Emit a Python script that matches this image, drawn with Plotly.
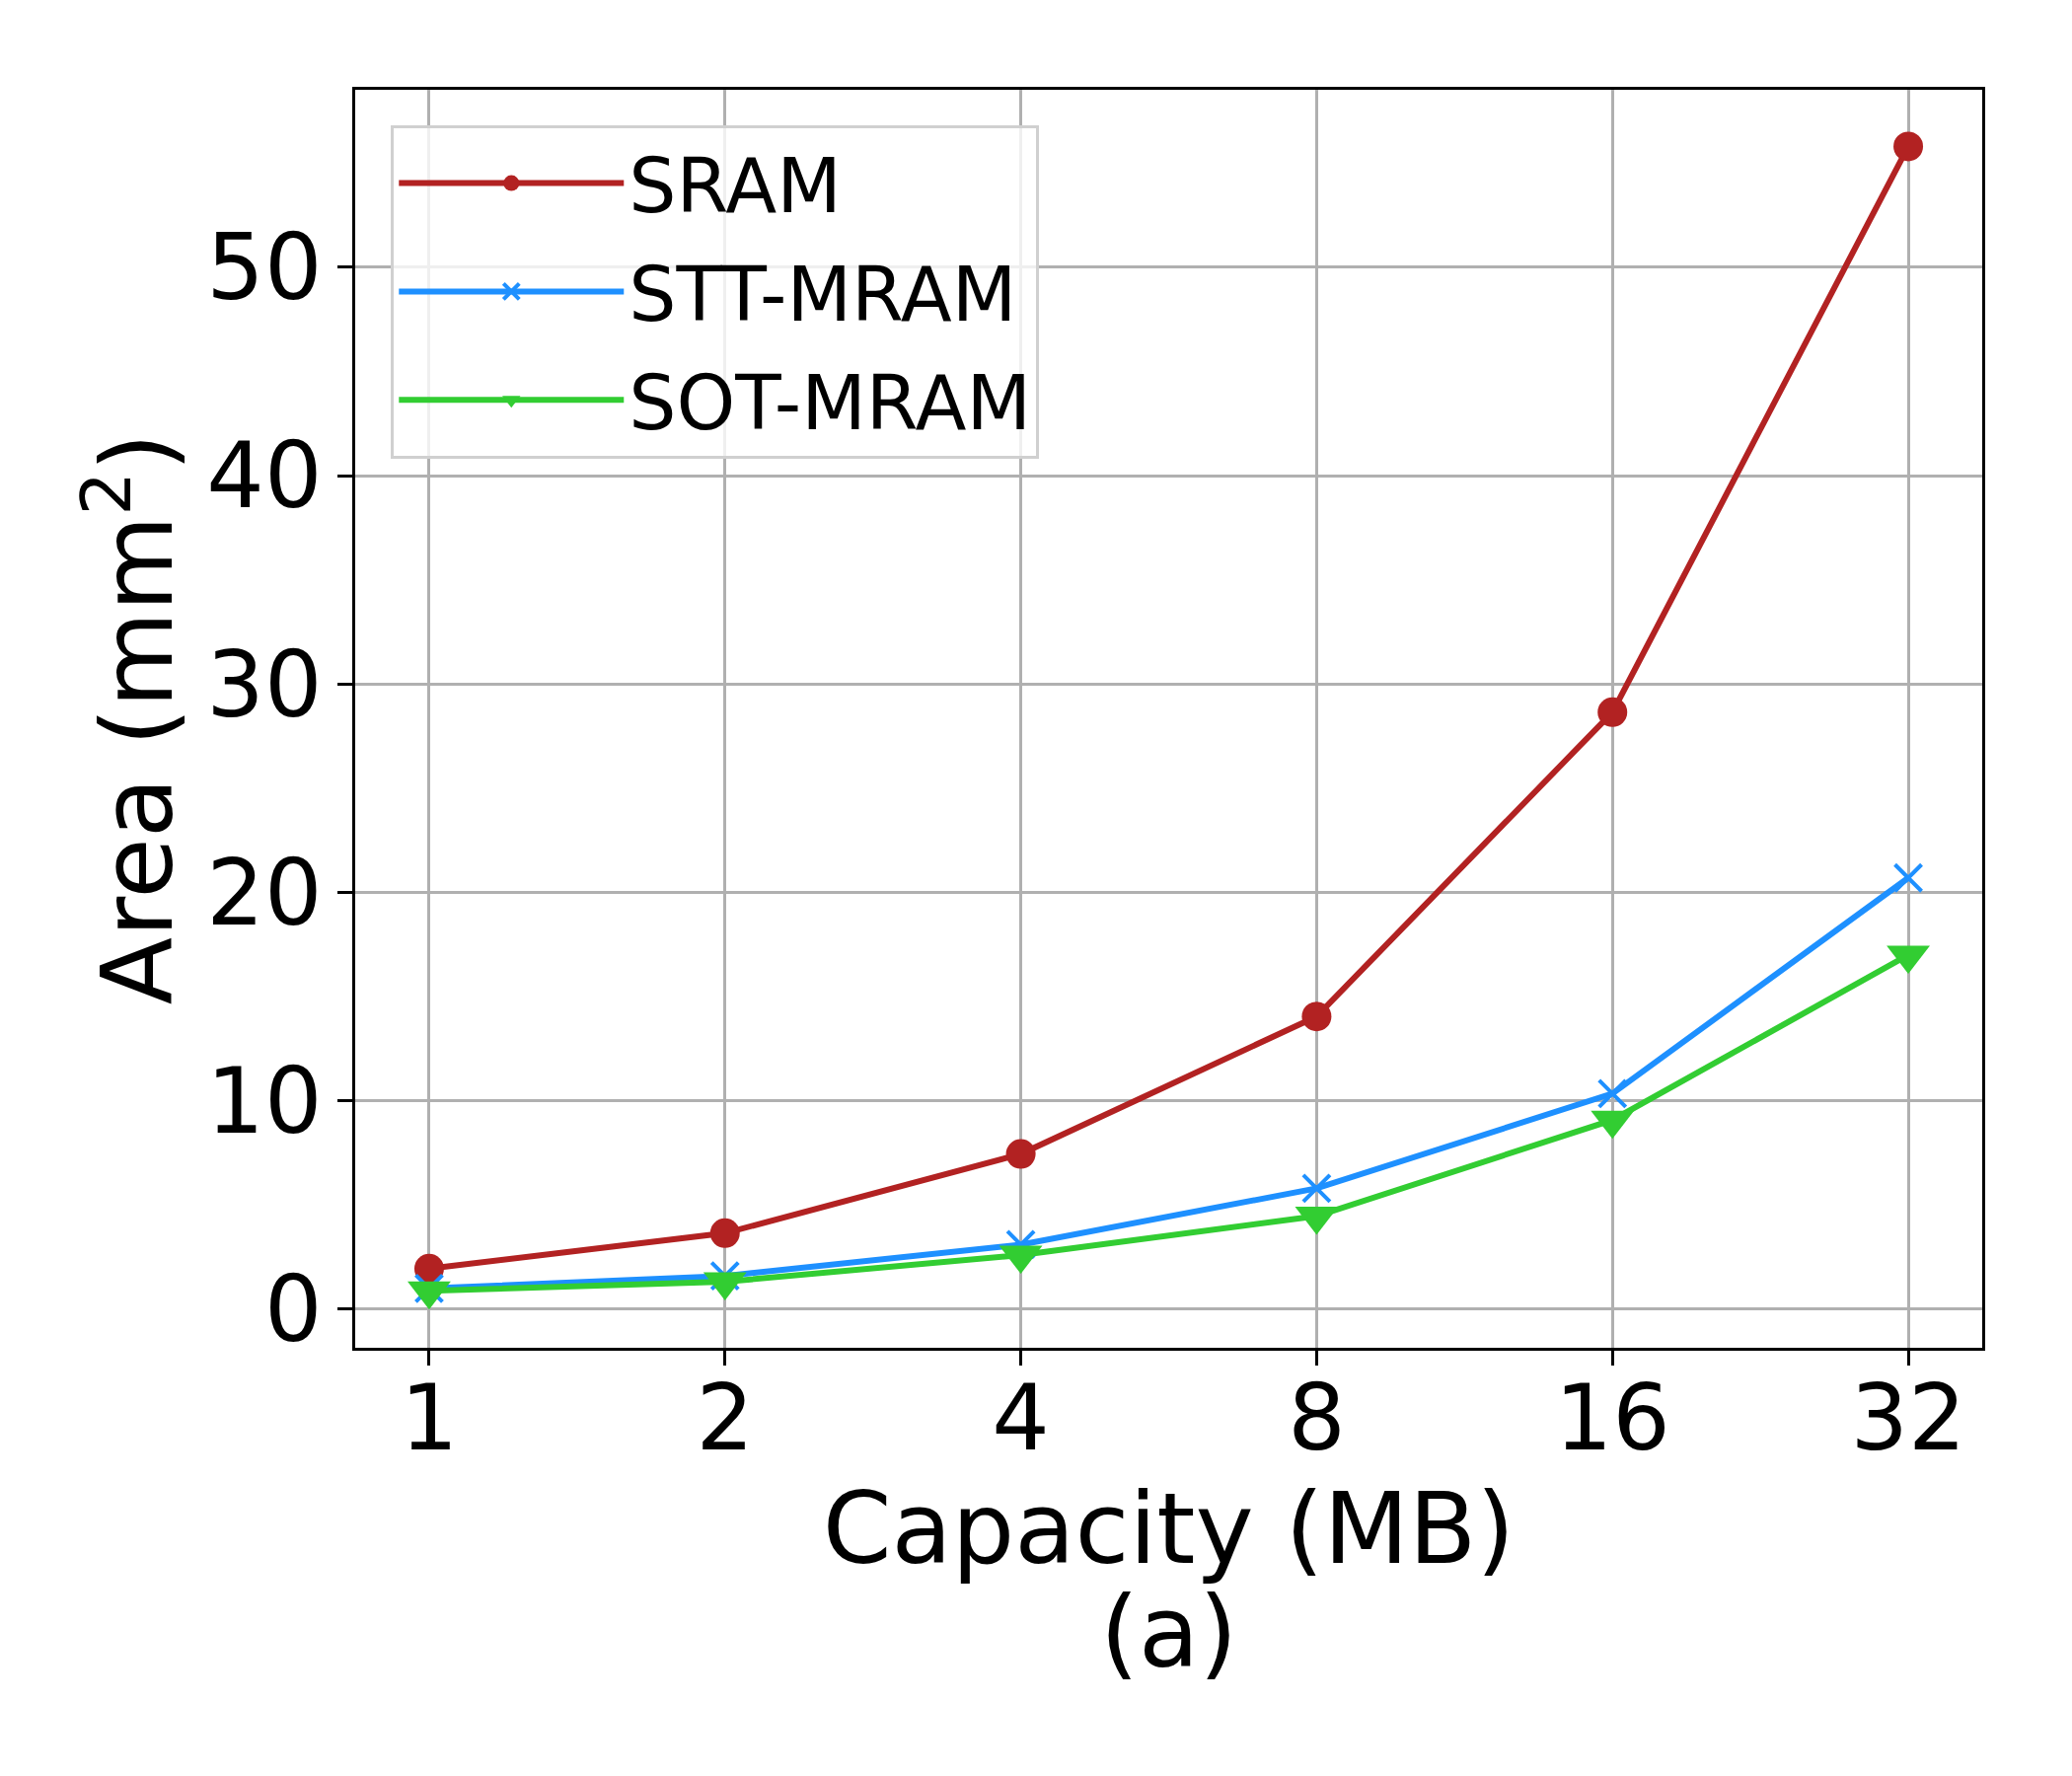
import plotly.graph_objects as go

capacity_labels = ["1", "2", "4", "8", "16", "32"]
sram_area = [1.95, 3.65, 7.45, 14.05, 28.65, 55.8]
stt_mram_area = [1.0, 1.6, 3.1, 5.8, 10.35, 20.7]
sot_mram_area = [0.88, 1.32, 2.6, 4.47, 9.08, 17.0]

FONT = "DejaVu Sans"
W, H = 2100, 1800
L, R, T, B = 352, 99, 83, 442

fig = go.Figure()
fig.add_trace(go.Scatter(
    x=capacity_labels, y=sram_area, name="SRAM", mode="lines+markers",
    legendgroup="a",
    line=dict(color="#b22222", width=6),
    marker=dict(symbol="circle", size=30, color="#b22222"),
))
fig.add_trace(go.Scatter(
    x=capacity_labels, y=stt_mram_area, name="STT-MRAM", mode="lines+markers",
    legendgroup="b",
    line=dict(color="#1e90ff", width=6),
    marker=dict(symbol="x-thin-open", size=27, color="#1e90ff",
                line=dict(color="#1e90ff", width=4)),
))
fig.add_trace(go.Scatter(
    x=capacity_labels, y=sot_mram_area, name="SOT-MRAM", mode="lines+markers",
    legendgroup="c",
    line=dict(color="#32cd32", width=6),
    marker=dict(symbol="triangle-down", size=38, color="#32cd32"),
))

axis_common = dict(
    showline=True, linecolor="black", linewidth=3.3, mirror=True,
    ticks="outside", ticklen=15, tickwidth=3.3, tickcolor="black",
    showgrid=True, gridcolor="#b0b0b0", gridwidth=3.3,
    zeroline=False,
    tickfont=dict(family=FONT, size=92, color="black"),
)

fig.update_layout(
    width=W, height=H,
    margin=dict(l=L, r=R, t=T, b=B, pad=0),
    paper_bgcolor="white", plot_bgcolor="white",
    font=dict(family=FONT, color="black"),
    showlegend=True,
    legend=dict(
        x=0.022, y=0.972, xanchor="left", yanchor="top",
        bgcolor="rgba(255,255,255,0.8)", bordercolor="#d0d0d0", borderwidth=3,
        font=dict(family=FONT, size=76, color="black"),
        tracegroupgap=8, itemwidth=228,
    ),
    xaxis=dict(
        type="category", range=[-0.25, 5.25],
        ticklabelstandoff=-26,
        title=dict(text="Capacity (MB)", font=dict(family=FONT, size=100, color="black"), standoff=5),
        **axis_common,
    ),
    yaxis=dict(
        range=[-1.85, 58.52], tickvals=[0, 10, 20, 30, 40, 50],
        ticklabelstandoff=-3,
        title=dict(text="Area (mm<sup>2</sup>)", font=dict(family=FONT, size=100, color="black"), standoff=2),
        **axis_common,
    ),
    annotations=[dict(
        text="(a)", xref="paper", yref="paper", x=0.5, y=0, xanchor="center", yanchor="top",
        yshift=-228, showarrow=False, font=dict(family=FONT, size=100, color="black"),
    )],
)

fig.write_html("out.html")
